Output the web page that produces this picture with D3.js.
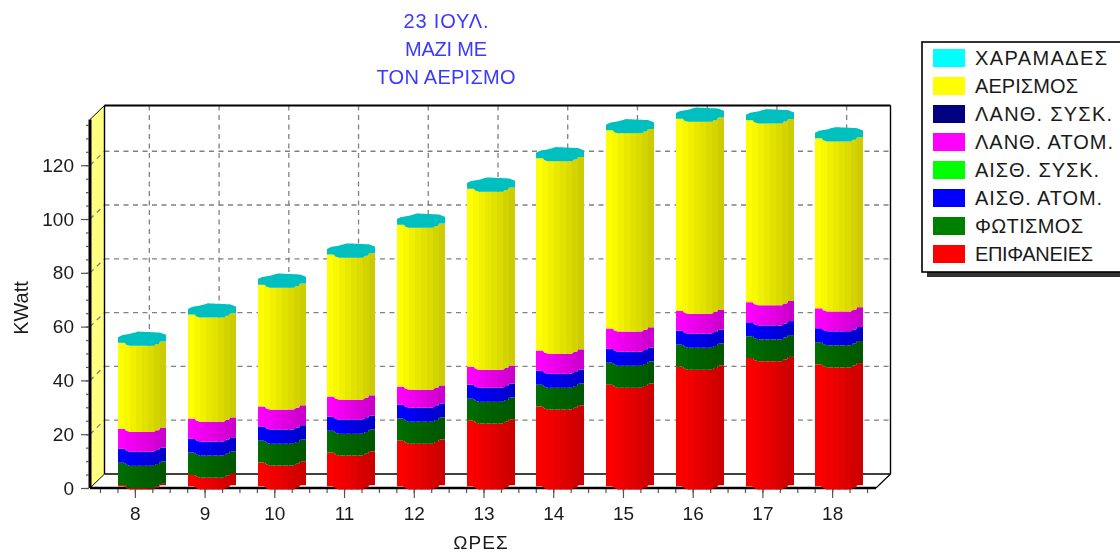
<!DOCTYPE html>
<html>
<head>
<meta charset="utf-8">
<script src="https://cdn.jsdelivr.net/npm/d3@7"></script>
<style>
    html, body { margin: 0; padding: 0; background: #fff; overflow: hidden; }
    svg { display: block; filter: blur(0.45px); font-family: "Liberation Sans", Arial, sans-serif; }
</style>
</head>
<body>
<div id="my_dataviz"></div>
<script>
const hours = [8, 9, 10, 11, 12, 13, 14, 15, 16, 17, 18];
const titleLines = ["23 ΙΟΥΛ.", "ΜΑΖΙ ΜΕ", "ΤΟΝ ΑΕΡΙΣΜΟ"];

// stacked bottom to top (KWatt)
const surfaces = [0.5, 4.4, 8.9, 12.6, 17.0, 24.5, 29.7, 37.8, 44.5, 47.7, 45.4];
const lighting = [8.3, 8.2, 8.1, 8.1, 8.2, 8.1, 8.1, 8.2, 8.2, 8.1, 8.2];
const sensiblePersons = [5.2, 5.2, 5.3, 5.2, 5.2, 5.2, 5.2, 5.2, 5.2, 5.2, 5.2];
const sensibleEquip = [0, 0, 0, 0, 0, 0, 0, 0, 0, 0, 0];
const latentPersons = [7.4, 7.4, 7.4, 7.5, 6.7, 6.7, 7.5, 7.5, 7.4, 7.5, 7.4];
const latentEquip = [0, 0, 0, 0, 0, 0, 0, 0, 0, 0, 0];
const ventilation = [32.0, 38.7, 45.3, 52.8, 60.2, 66.2, 71.5, 73.7, 71.4, 67.6, 63.2];
const cracks = [0, 0, 0, 0, 0, 0, 0, 0, 0, 0, 0];

const seriesNames = ["ΕΠΙΦΑΝΕΙΕΣ", "ΦΩΤΙΣΜΟΣ", "ΑΙΣΘ. ΑΤΟΜ.", "ΑΙΣΘ. ΣΥΣΚ.", "ΛΑΝΘ. ΑΤΟΜ.", "ΛΑΝΘ. ΣΥΣΚ.", "ΑΕΡΙΣΜΟΣ", "ΧΑΡΑΜΑΔΕΣ"];
const seriesValues = [surfaces, lighting, sensiblePersons, sensibleEquip, latentPersons, latentEquip, ventilation, cracks];
const seriesColors = ["#ff0000", "#008000", "#0000ff", "#00ff00", "#ff00ff", "#000080", "#ffff00", "#00ffff"];
// the reference font is wider than Liberation for these strings
const legendTextW = [118, 108, 127, 124, 138, 137, 103, 132];
const titleTextW = [85, 82, 139];

const width = 1120, height = 553;
const depthX = 14.5, depthY = 14;
const barW = 48;

const x = d3.scaleLinear().domain([7.5, 18.5]).range([100, 867]);
const y = d3.scaleLinear().domain([0, 137]).range([488, 119.5]);

const plot = {left: 90, right: 876, top: y(137), bottom: y(0)};

const svg = d3.select("#my_dataviz")
    .append("svg")
    .attr("width", width)
    .attr("height", height);

// walls
svg.append("polygon")
    .attr("points", [[plot.left, plot.top], [plot.left + depthX, plot.top - depthY], [plot.left + depthX, plot.bottom - depthY], [plot.left, plot.bottom]].join(" "))
    .attr("fill", "#ffff80");

const grid = svg.append("g")
    .attr("fill", "none")
    .attr("stroke", "#808080")
    .attr("stroke-width", 1.3)
    .attr("stroke-dasharray", "5,4.5");

const yMajor = d3.range(20, 121, 20);
grid.selectAll(".back-h")
    .data(yMajor)
    .enter()
    .append("line")
    .attr("x1", plot.left + depthX)
    .attr("x2", plot.right + depthX)
    .attr("y1", d => y(d) - depthY)
    .attr("y2", d => y(d) - depthY);
grid.selectAll(".side-h")
    .data(yMajor)
    .enter()
    .append("line")
    .attr("x1", plot.left)
    .attr("x2", plot.left + depthX)
    .attr("y1", d => y(d))
    .attr("y2", d => y(d) - depthY);
grid.selectAll(".back-v")
    .data(hours)
    .enter()
    .append("line")
    .attr("x1", d => x(d) + depthX)
    .attr("x2", d => x(d) + depthX)
    .attr("y1", plot.top - depthY)
    .attr("y2", plot.bottom - depthY);

// outline of the box
const outline = [
    [[plot.left + depthX, plot.top - depthY], [plot.right + depthX, plot.top - depthY], 1.8],
    [[plot.right + depthX, plot.top - depthY], [plot.right + depthX, plot.bottom - depthY], 1.4],
    [[plot.left + depthX, plot.top - depthY], [plot.left + depthX, plot.bottom - depthY], 1.4],
    [[plot.left + depthX, plot.bottom - depthY], [plot.right + depthX, plot.bottom - depthY], 1.6],
    [[plot.left, plot.top], [plot.left + depthX, plot.top - depthY], 1],
    [[plot.left, plot.bottom], [plot.left + depthX, plot.bottom - depthY], 1],
    [[plot.right, plot.bottom], [plot.right + depthX, plot.bottom - depthY], 1.2],
    [[plot.left, plot.top], [plot.left, plot.bottom], 3],
    [[plot.left, plot.bottom], [plot.right, plot.bottom], 2.6]
];
svg.append("g").selectAll("line")
    .data(outline)
    .enter()
    .append("line")
    .attr("x1", d => d[0][0])
    .attr("y1", d => d[0][1])
    .attr("x2", d => d[1][0])
    .attr("y2", d => d[1][1])
    .attr("stroke", "#000")
    .attr("stroke-width", d => d[2]);

// axes: majors with labels, minors without
const axisFont = g => g.selectAll("text")
    .attr("font-size", 19)
    .attr("fill", "#1a1a1a");
const axisStyle = g => {
    g.select(".domain").remove();
    g.selectAll("line").attr("stroke", "#555").attr("stroke-width", 1.2);
};

svg.append("g")
    .attr("transform", `translate(${plot.left - 1},0)`)
    .call(d3.axisLeft(y).tickValues(d3.range(0, 136, 5)).tickSize(3).tickFormat(""))
    .call(axisStyle);
svg.append("g")
    .attr("transform", `translate(${plot.left - 1},0)`)
    .call(d3.axisLeft(y).tickValues(d3.range(0, 121, 20)).tickSize(8).tickPadding(7))
    .call(axisStyle)
    .call(axisFont)
    .selectAll("text")
    .attr("font-family", "Liberation Sans");

svg.append("g")
    .attr("transform", `translate(0,${plot.bottom + 1})`)
    .call(d3.axisBottom(x).tickValues(d3.range(7.5, 18.6, 0.25)).tickSize(4).tickFormat(""))
    .call(axisStyle);
svg.append("g")
    .attr("transform", `translate(0,${plot.bottom + 1})`)
    .call(d3.axisBottom(x).tickValues(hours).tickSize(9).tickPadding(9).tickFormat(d3.format("d")))
    .call(axisStyle)
    .call(axisFont);

// cylinders: front edge and top edge of the stepped ellipse, px across the bar
const frontEdge = d3.scaleLinear()
    .domain([0, 7, 8, 12, 36, 38, 41, 42, 48])
    .range([-1.6, -1.6, 0.2, 1.5, 1.5, -0.3, -0.3, -2.8, -2.8]);
const backEdge = d3.scaleLinear()
    .domain([0, 4, 12, 20, 42, 48])
    .range([-7.2, -9.2, -10.5, -12.8, -11.8, -9.5]);
const shade = d3.scaleLinear().domain([0, 7]).range([1, 0.8]);
const bandStarts = d3.range(0, 48, 6);

const stack = d3.stack()
    .keys(d3.range(seriesValues.length))
    .value((row, k) => seriesValues[k][row]);
const stacked = stack(d3.range(hours.length));

function band(barLeft, start, lo, hi) {
    const end = Math.min(start + 7, barW);  // overlap the next facet so no seam shows
    const pts = d3.range(start, end + 0.01, 1);
    const lower = pts.map(p => [barLeft + p, y(lo) + frontEdge(p)]);
    const upper = pts.map(p => [barLeft + p, y(hi) + frontEdge(p)]).reverse();
    return "M" + lower.concat(upper).join("L") + "Z";
}

function darker(color, k) {
    const c = d3.rgb(color);
    return d3.rgb(c.r * k, c.g * k, c.b * k).formatHex();
}

const bars = svg.append("g");

hours.forEach((hour, i) => {
    const barLeft = Math.round(x(hour) + depthX / 2 - barW / 2);
    const g = bars.append("g");
    stacked.forEach((layer, s) => {
        const lo = layer[i][0], hi = layer[i][1];
        if (hi - lo <= 0) return;
        g.selectAll(null)
            .data(bandStarts)
            .enter()
            .append("path")
            .attr("d", d => band(barLeft, d, lo, hi))
            .attr("fill", (d, b) => darker(seriesColors[s], shade(b) * (s === 1 ? 0.85 : 1)));
    });
    const total = stacked[stacked.length - 1][i][1];
    const across = d3.range(0, 48.01, 1);
    const capPts = across.map(p => [barLeft + p, y(total) + frontEdge(p)])
        .concat(across.map(p => [barLeft + p, y(total) + backEdge(p)]).reverse());
    g.append("path")
        .attr("d", "M" + capPts.join("L") + "Z")
        .attr("fill", darker(seriesColors[7], 0.75));
});

// title
svg.append("g")
    .selectAll("text")
    .data(titleLines)
    .enter()
    .append("text")
    .attr("x", 446)
    .attr("y", (d, i) => 28 + i * 28)
    .attr("text-anchor", "middle")
    .attr("font-size", 20)
    .attr("fill", "#3a3aff")
    .attr("textLength", (d, i) => titleTextW[i])
    .attr("lengthAdjust", "spacing")
    .text(d => d);

svg.append("text")
    .attr("x", 481)
    .attr("y", 549)
    .attr("text-anchor", "middle")
    .attr("font-size", 19)
    .attr("letter-spacing", 1)
    .attr("fill", "#1a1a1a")
    .text("ΩΡΕΣ");

svg.append("text")
    .attr("transform", "translate(28,308)rotate(-90)")
    .attr("text-anchor", "middle")
    .attr("font-size", 20)
    .attr("fill", "#1a1a1a")
    .text("KWatt");

// legend
const legend = svg.append("g");
legend.append("rect")
    .attr("x", 927).attr("y", 47)
    .attr("width", 210).attr("height", 230)
    .attr("fill", "#333");
legend.append("rect")
    .attr("x", 922).attr("y", 42)
    .attr("width", 210).attr("height", 230)
    .attr("fill", "#fff")
    .attr("stroke", "#000")
    .attr("stroke-width", 1.6);

const legendRow = d3.scaleLinear().domain([0, 7]).range([49, 245]);
const legendItems = d3.range(seriesNames.length).reverse();

legend.selectAll(".swatch")
    .data(legendItems)
    .enter()
    .append("rect")
    .attr("x", 933)
    .attr("y", (d, i) => legendRow(i))
    .attr("width", 32)
    .attr("height", 18)
    .attr("fill", d => seriesColors[d]);

legend.selectAll(".label")
    .data(legendItems)
    .enter()
    .append("text")
    .attr("x", 975)
    .attr("y", (d, i) => legendRow(i) + 16)
    .attr("font-size", 20)
    .attr("fill", "#1a1a1a")
    .attr("textLength", d => legendTextW[d])
    .attr("lengthAdjust", "spacing")
    .text(d => seriesNames[d]);
</script>
</body>
</html>
